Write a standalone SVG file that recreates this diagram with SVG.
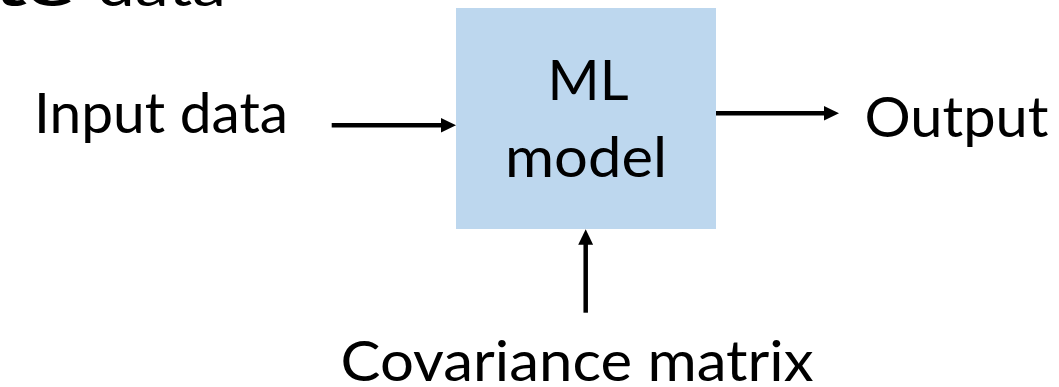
<svg xmlns="http://www.w3.org/2000/svg" width="1059" height="387" viewBox="0 0 1059 387">
  <style>
    .lbl { font-family: Lato, "Open Sans", "Liberation Sans", sans-serif; font-size: 56px; fill: #000000; }
    .conn { stroke: #000000; stroke-width: 4.5; fill: none; }
  </style>
  <defs>
    <marker id="head" viewBox="0 0 15.5 15" markerUnits="userSpaceOnUse" markerWidth="15.5" markerHeight="15" refX="2.5" refY="7.5" orient="auto">
      <path d="M0,0 L15.5,7.5 L0,15 z" fill="#000000"/>
    </marker>
  </defs>
  <rect width="1059" height="387" fill="#ffffff"/>

  <g id="title">
    <text class="lbl" y="6" font-size="66"><tspan x="-6" font-weight="700" textLength="80" lengthAdjust="spacingAndGlyphs">te</tspan><tspan x="97" textLength="129" lengthAdjust="spacingAndGlyphs">data</tspan></text>
  </g>

  <g id="input">
    <text class="lbl" x="34" y="133" textLength="254" lengthAdjust="spacingAndGlyphs">Input data</text>
  </g>

  <g id="model">
    <rect x="456" y="8" width="260" height="221" fill="#BDD7EE"/>
    <text class="lbl" x="588" y="100" text-anchor="middle" textLength="81" lengthAdjust="spacingAndGlyphs">ML</text>
    <text class="lbl" x="586" y="177" text-anchor="middle" textLength="162" lengthAdjust="spacingAndGlyphs">model</text>
  </g>

  <g id="output">
    <text class="lbl" x="864.5" y="137" textLength="184" lengthAdjust="spacingAndGlyphs">Output</text>
  </g>

  <g id="covariance">
    <text class="lbl" x="577" y="381" text-anchor="middle" textLength="473" lengthAdjust="spacingAndGlyphs">Covariance matrix</text>
  </g>

  <g id="connectors">
    <line class="conn" x1="331.7" y1="125.3" x2="443" y2="125.3" marker-end="url(#head)"/>
    <line class="conn" x1="716" y1="113.3" x2="826" y2="113.3" marker-end="url(#head)"/>
    <line class="conn" x1="585.7" y1="312.7" x2="585.7" y2="242.3" marker-end="url(#head)"/>
  </g>
</svg>
